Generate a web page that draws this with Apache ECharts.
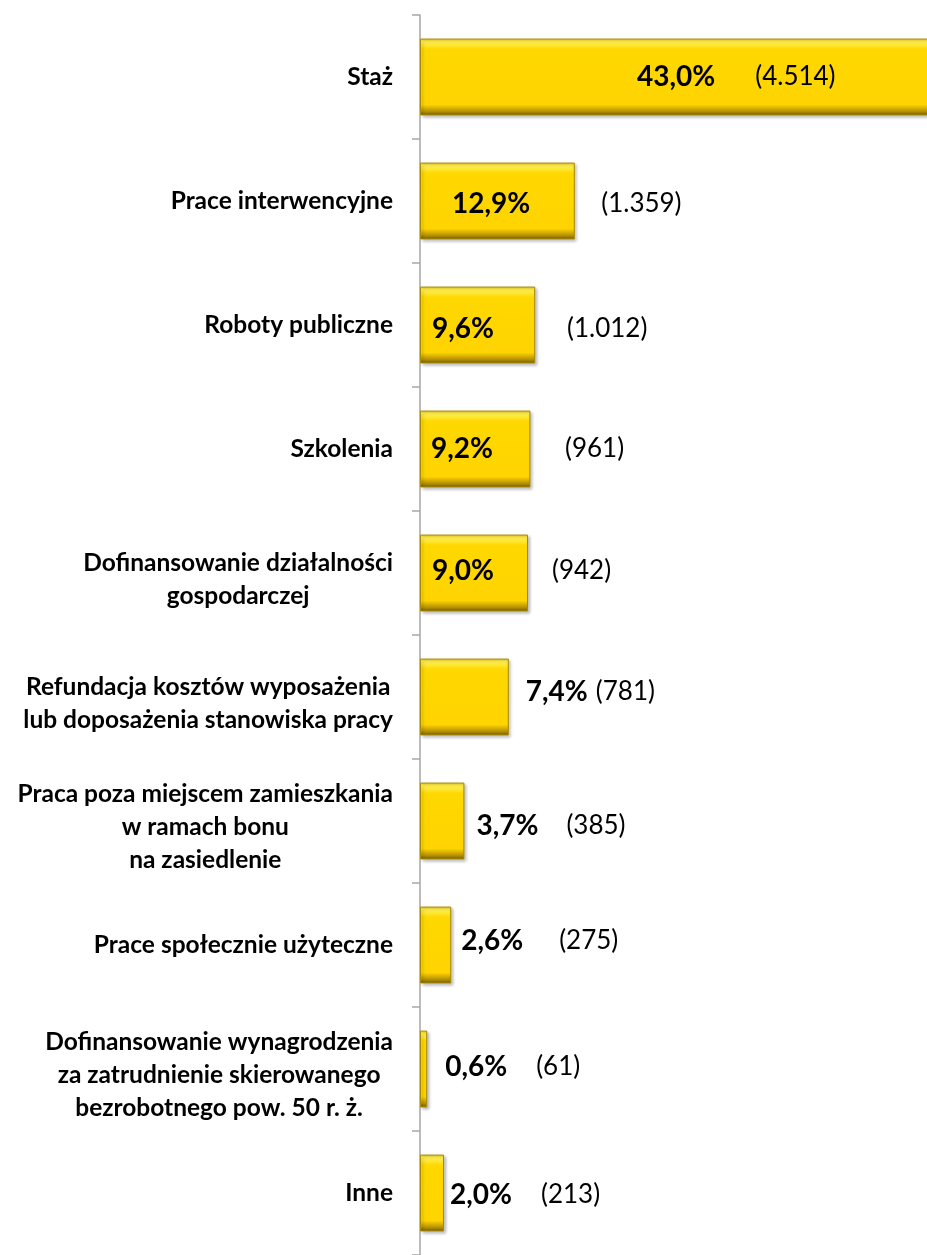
<!DOCTYPE html>
<html>
<head>
<meta charset="utf-8">
<script src="https://cdn.jsdelivr.net/npm/echarts@6/dist/echarts.min.js"></script>
<style>
  html, body { margin: 0; padding: 0; background: #fff; }
  #chart { width: 927px; height: 1255px; }
</style>
</head>
<body>
<div id="chart"></div>
<script>
// categories (top to bottom)
const categories = [
  'Staż',
  'Prace interwencyjne',
  'Roboty publiczne',
  'Szkolenia',
  'Dofinansowanie działalności\ngospodarczej',
  'Refundacja kosztów wyposażenia\nlub doposażenia stanowiska pracy',
  'Praca poza miejscem zamieszkania\nw ramach bonu\nna zasiedlenie',
  'Prace społecznie użyteczne',
  'Dofinansowanie wynagrodzenia\nza zatrudnienie skierowanego\nbezrobotnego pow. 50 r. ż.',
  'Inne'
]
// share in %
const shares = [43.0, 12.9, 9.6, 9.2, 9.0, 7.4, 3.7, 2.6, 0.6, 2.0]
// number of people
const counts = [4514, 1359, 1012, 961, 942, 781, 385, 275, 61, 213]

// label placement (insideLeft = percent drawn inside the bar)
const labelPos = [
  { pos: 'insideLeft', dx: 212, dy: 0, gap: 40 },
  { pos: 'insideLeft', dx: 27, dy: 3, gap: 71 },
  { pos: 'insideLeft', dx: 7, dy: 4, gap: 73 },
  { pos: 'insideLeft', dx: 6, dy: 0, gap: 72 },
  { pos: 'insideLeft', dx: 7, dy: -2, gap: 58 },
  { pos: 'right', dist: 17, dy: -5, gap: 8 },
  { pos: 'right', dist: 12, dy: 5, gap: 28 },
  { pos: 'right', dist: 10, dy: -4, gap: 36 },
  { pos: 'right', dist: 18, dy: -2, gap: 29 },
  { pos: 'right', dist: 6, dy: 2, gap: 29 }
]

const FONT = 'Lato, "Open Sans", sans-serif'

const fmtPct = v => v.toFixed(1).replace('.', ',') + '%'
const fmtCount = v => '(' + String(v).replace(/\B(?=(\d{3})+(?!\d))/g, '.') + ')'

const data = shares.map((v, i) => {
  const lp = labelPos[i]
  return {
    value: v,
    label: {
      show: true,
      position: lp.pos,
      distance: lp.pos === 'right' ? lp.dist : 5,
      offset: [lp.dx || 0, lp.dy],
      formatter: '{p|' + fmtPct(v) + '}{c|' + fmtCount(counts[i]) + '}',
      rich: {
        p: { fontFamily: FONT, fontWeight: 'bold', fontSize: 28, color: '#000' },
        c: { fontFamily: FONT, fontSize: 26, color: '#000', padding: [0, 0, 0, lp.gap] }
      }
    }
  }
})

// multi-line category labels sit a bit lower in the original
const catLabel = v => {
  const lines = v.split('\n')
  const body = lines.map(s => '{t|' + s + '}').join('\n')
  if (lines.length === 1) return body
  return '{e| }\n' + body
}

const chart = echarts.init(document.getElementById('chart'))
chart.setOption({
  animation: false,
  grid: { left: 420, right: 0, top: 15, bottom: -3, containLabel: false },
  xAxis: {
    type: 'value',
    min: 0,
    max: 42.25,
    show: false
  },
  yAxis: {
    type: 'category',
    inverse: true,
    data: categories,
    axisLine: { lineStyle: { color: '#a6a6a6', width: 1.5 } },
    axisTick: { show: true, length: 8, inside: false, lineStyle: { color: '#a6a6a6', width: 1.5 } },
    axisLabel: {
      margin: 27,
      formatter: catLabel,
      rich: {
        t: { fontFamily: FONT, fontWeight: 'bold', fontSize: 24.5, color: '#000', align: 'center', lineHeight: 33 },
        e: { fontSize: 1, lineHeight: 13 }
      }
    }
  },
  series: [{
    type: 'bar',
    data: data,
    barCategoryGap: '38%',
    clip: false,
    itemStyle: {
      color: new echarts.graphic.LinearGradient(0, 0, 0, 1, [
        { offset: 0, color: '#f4c400' },
        { offset: 0.04, color: '#fff35a' },
        { offset: 0.14, color: '#ffd800' },
        { offset: 0.86, color: '#ffd400' },
        { offset: 0.95, color: '#b38f00' },
        { offset: 1, color: '#6e5800' }
      ]),
      borderColor: '#a88a00',
      borderWidth: 1,
      shadowColor: 'rgba(0,0,0,0.25)',
      shadowBlur: 3,
      shadowOffsetX: 2,
      shadowOffsetY: 2
    }
  }]
})
</script>
</body>
</html>
